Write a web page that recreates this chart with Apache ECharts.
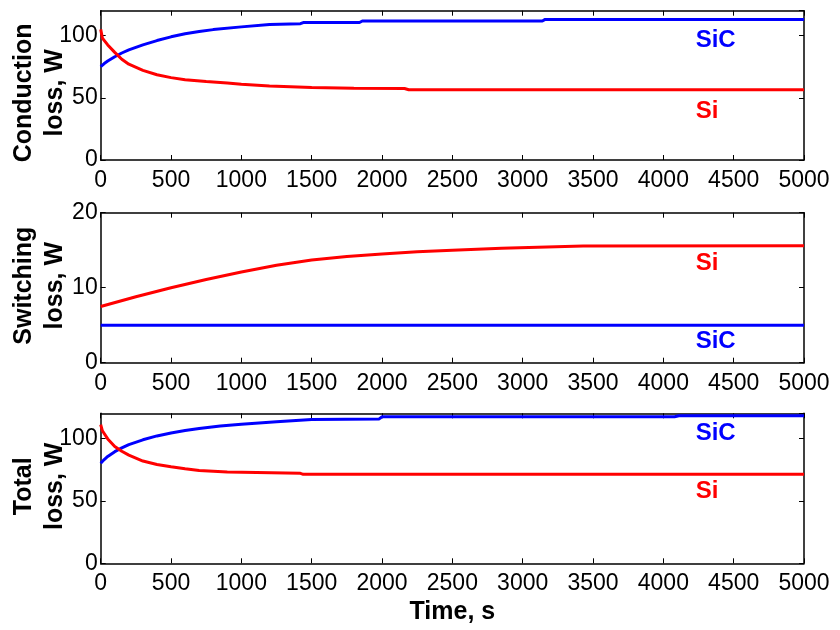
<!DOCTYPE html>
<html>
<head>
<meta charset="utf-8">
<script src="https://cdn.jsdelivr.net/npm/echarts/dist/echarts.min.js"></script>
<style>
  html, body { margin: 0; padding: 0; background: #fff; }
  #chart { width: 840px; height: 630px; }
</style>
</head>
<body>
<div id="chart"></div>
<script>
// ---- Conduction loss (W) vs time (s) ----
const condSiCTime = [0, 25, 50, 100, 150, 200, 300, 400, 500, 600, 700, 800, 1000, 1200, 1420, 1440, 1840, 1860, 3140, 3160, 5000];
const condSiC     = [75, 77.5, 79.5, 83, 86, 88.5, 92.5, 96, 99, 101.5, 103.2, 104.8, 107, 108.9, 109.6, 110.5, 110.5, 111.7, 111.7, 113, 113];
const condSiTime  = [0, 12, 50, 100, 150, 200, 300, 400, 500, 600, 750, 900, 1000, 1200, 1500, 1800, 2160, 2190, 5000];
const condSi      = [105, 98, 92.5, 86.5, 81, 77, 72, 68.5, 66.2, 64.5, 63, 61.8, 60.8, 59.5, 58.2, 57.7, 57.5, 56.5, 56.5];

// ---- Switching loss (W) vs time (s) ----
const swSiTime  = [0, 250, 500, 750, 1000, 1250, 1500, 1750, 2000, 2250, 2500, 2850, 3430, 5000];
const swSi      = [7.5, 8.8, 10.0, 11.1, 12.1, 13.0, 13.7, 14.15, 14.5, 14.8, 15.0, 15.25, 15.55, 15.6];
const swSiCTime = [0, 5000];
const swSiC     = [5, 5];

// ---- Total loss (W) vs time (s) ----
const totSiCTime = [0, 25, 50, 100, 150, 200, 300, 400, 500, 600, 700, 850, 1000, 1250, 1500, 1980, 2000, 4080, 4110, 5000];
const totSiC     = [80, 83, 85.5, 89.3, 92.3, 95, 98.8, 101.9, 104.3, 106.2, 107.8, 109.8, 111.3, 113.3, 115, 115.5, 117.2, 117.2, 118, 118];
const totSiTime  = [0, 12, 50, 100, 150, 200, 300, 400, 500, 600, 700, 900, 910, 1420, 1440, 5000];
const totSi      = [111, 106, 99.5, 93.5, 89.6, 86.5, 81.8, 79.1, 77.2, 75.6, 74.3, 73, 72, 72, 71.2, 71.2];

// ---- Axis settings per panel ----
const panelNames  = ['Conduction\nloss, W', 'Switching\nloss, W', 'Total\nloss, W'];
const panelYMax   = [120, 20, 120];
const panelYStep  = [50, 10, 50];
const xTicks      = { min: 0, max: 5000, step: 500 };
const xName       = 'Time, s';

// ---- In-plot curve labels ----
const tagText  = ['SiC', 'Si', 'Si', 'SiC', 'SiC', 'Si'];
const tagPanel = [0, 0, 1, 1, 2, 2];
const tagT     = [4230, 4230, 4230, 4230, 4230, 4230];
const tagV     = [96.4, 38.9, 13.3, 2.8, 104, 57.3];

const RED = '#ff0000', BLUE = '#0000ff';
const FONT = '"Liberation Sans", Arial, Helvetica, sans-serif';

const gridTops = [10.7, 212.7, 413.3];
const gridHeights = [149.3, 150, 150];

function pairs(t, v) { return t.map((x, i) => [x, v[i]]); }
const plain = (v) => String(v);

const axisLine = { show: true, onZero: false, lineStyle: { color: '#000', width: 1.5 } };
const axisTick = { show: true, inside: true, length: 5, lineStyle: { color: '#000', width: 1 } };

const grids = [], xAxes = [], yAxes = [];
for (let i = 0; i < 3; i++) {
  grids.push({ left: 100.7, width: 703.3, top: gridTops[i], height: gridHeights[i], outerBoundsMode: 'none', containLabel: false });
  const xBase = {
    gridIndex: i, type: 'value', min: xTicks.min, max: xTicks.max, interval: xTicks.step,
    axisLine, axisTick, splitLine: { show: false }
  };
  xAxes.push(Object.assign({}, xBase, {
    position: 'bottom',
    axisLabel: { color: '#000', fontSize: 23, fontFamily: FONT, margin: 9, formatter: plain },
    name: i === 2 ? xName : '',
    nameLocation: 'middle', nameGap: 36, nameMoveOverlap: false,
    nameTextStyle: { color: '#000', fontSize: 25, fontWeight: 'bold', fontFamily: FONT }
  }));
  xAxes.push(Object.assign({}, xBase, { position: 'top', axisLabel: { show: false } }));
  const yBase = {
    gridIndex: i, type: 'value', min: 0, max: panelYMax[i], interval: panelYStep[i],
    axisLine, axisTick, splitLine: { show: false }
  };
  yAxes.push(Object.assign({}, yBase, {
    position: 'left',
    axisLabel: { color: '#000', fontSize: 23, fontFamily: FONT, margin: 3, formatter: plain,
                 showMaxLabel: panelYMax[i] % panelYStep[i] === 0 },
    name: panelNames[i], nameLocation: 'middle', nameGap: 30, nameMoveOverlap: false,
    nameTextStyle: { color: '#000', fontSize: 25, fontWeight: 'bold', fontFamily: FONT, lineHeight: 31,
                     padding: i === 0 ? [0, 15, 0, 0] : [0, 0, 0, 4] }
  }));
  yAxes.push(Object.assign({}, yBase, { position: 'right', axisLabel: { show: false } }));
}

function line(name, i, t, v, color) {
  return {
    name, type: 'line', xAxisIndex: 2 * i, yAxisIndex: 2 * i,
    data: pairs(t, v), showSymbol: false, symbol: 'none', smooth: false,
    lineStyle: { color, width: 3 }, itemStyle: { color }, animation: false, z: 3
  };
}

const series = [
  line('SiC', 0, condSiCTime, condSiC, BLUE),
  line('Si',  0, condSiTime,  condSi,  RED),
  line('Si',  1, swSiTime,    swSi,    RED),
  line('SiC', 1, swSiCTime,   swSiC,   BLUE),
  line('SiC', 2, totSiCTime,  totSiC,  BLUE),
  line('Si',  2, totSiTime,   totSi,   RED)
];

const chart = echarts.init(document.getElementById('chart'), null, { renderer: 'canvas' });
chart.setOption({
  backgroundColor: '#fff',
  animation: false,
  grid: grids, xAxis: xAxes, yAxis: yAxes, series
});

// Curve tags placed in data coordinates of their panel
const firstSeriesOfPanel = [0, 2, 4];
const tags = tagText.map((txt, k) => {
  const p = chart.convertToPixel({ seriesIndex: firstSeriesOfPanel[tagPanel[k]] }, [tagT[k], tagV[k]]);
  return {
    type: 'text', x: p[0], y: p[1], z: 10,
    style: { text: txt, fill: txt === 'SiC' ? BLUE : RED, font: 'bold 24px ' + FONT,
             align: 'left', verticalAlign: 'middle' }
  };
});
chart.setOption({ graphic: tags });
</script>
</body>
</html>
